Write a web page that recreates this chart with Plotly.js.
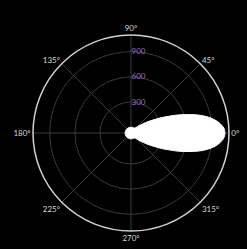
<!DOCTYPE html>
<html>
<head>
<meta charset="utf-8">
<script src="https://cdn.plot.ly/plotly-3.0.1.min.js"></script>
<style>html,body{margin:0;padding:0;background:#000;}#chart{width:247px;height:249px;}</style>
</head>
<body>
<div id="chart"></div>
<script>
// Beam pattern (degrees, radial value)
var thetaDeg = [-180,-150,-120,-90,-60,-55,-50,-45,-40,-35,-30,-27,-24,-21,-18,-15,-12,-9,-6,-3,0,3,6,9,12,15,18,21,24,27,30,35,40,45,50,55,60,90,120,150,180];
var radius   = [0,0,0,0,0,4,12,38,85,155,255,335,425,535,645,765,865,945,1002,1040,1052,1040,1000,940,860,760,640,530,420,330,250,150,80,35,10,2,0,0,0,0,0];
var angTickVals = [0,45,90,135,180,225,270,315];
var angTickText = ["0°","45°","90°","135°","180°","225°","270°","315°"];
var radTickVals = [300,600,900];
var radTickText = ["300","600","900"];

var trace = {
  type: 'scatterpolar',
  mode: 'lines',
  r: radius,
  theta: thetaDeg,
  fill: 'toself',
  fillcolor: '#ffffff',
  line: {color: '#ffffff', width: 1, shape: 'spline'},
  hoverinfo: 'skip'
};

var layout = {
  width: 247, height: 249,
  margin: {l: 33, r: 18, t: 34, b: 17},
  paper_bgcolor: '#000000',
  showlegend: false,
  font: {family: 'Lato, "Open Sans", sans-serif', size: 8, color: '#d8d8d8'},
  polar: {
    bgcolor: '#000000',
    radialaxis: {
      range: [-70, 1100],
      angle: 90,
      tickangle: 90,
      tickvals: radTickVals,
      ticktext: radTickText,
      tickfont: {color: '#9a6fd0', size: 8},
      showline: false,
      ticks: '',
      gridcolor: '#3a3a3a',
      gridwidth: 1
    },
    angularaxis: {
      rotation: 0,
      direction: 'counterclockwise',
      tickvals: angTickVals,
      ticktext: angTickText,
      ticks: '',
      tickfont: {color: '#d8d8d8', size: 8},
      showline: true,
      linecolor: '#d0d0d0',
      linewidth: 1.5,
      gridcolor: '#3a3a3a',
      gridwidth: 1
    }
  }
};

Plotly.newPlot('chart', [trace], layout, {displayModeBar: false, staticPlot: true});
</script>
</body>
</html>
